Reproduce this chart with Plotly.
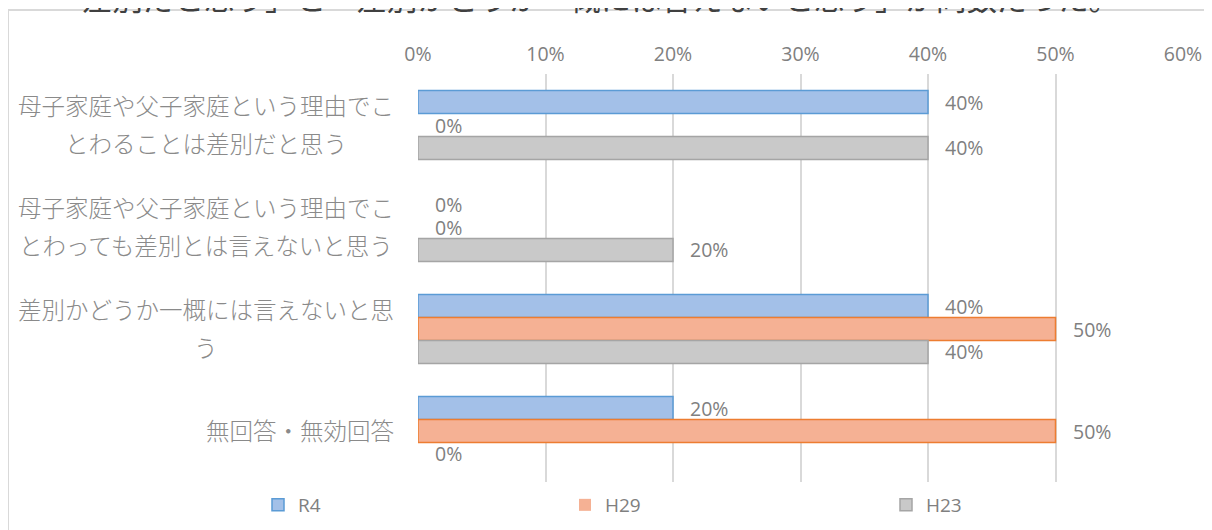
import plotly.graph_objects as go

# ---------------- data ----------------
categories = [
    "母子家庭や父子家庭という理由でことわることは差別だと思う",
    "母子家庭や父子家庭という理由でことわっても差別とは言えないと思う",
    "差別かどうか一概には言えないと思う",
    "無回答・無効回答",
]
series_names = ["R4", "H29", "H23"]
r4_values = [0.40, 0.00, 0.40, 0.20]
h29_values = [0.00, 0.00, 0.50, 0.50]
h23_values = [0.40, 0.20, 0.40, 0.00]
x_tick_values = [0, 0.1, 0.2, 0.3, 0.4, 0.5, 0.6]
title_fragment = "差別だと思う」と「差別かどうか一概には言えないと思う」が同数だった。"

# ---------------- layout constants ----------------
W, H = 1212, 530
OX, OY = 8, 8                      # page body margin offset
PLOT_L, PLOT_R, PLOT_T, PLOT_B = 418, 1183, 74, 482   # target pixel box
PW, PH = PLOT_R - PLOT_L, PLOT_B - PLOT_T
ML = PLOT_L - OX
MT = PLOT_T - OY
MR = W - (PLOT_R - OX)
MB = H - MT - PH


def xp(px):
    return (px - PLOT_L) / PW


def yp(py):
    return (PLOT_B - py) / PH


fills = ["#a3c0e8", "#f5b194", "#c9c9c9"]
edges = ["#5b9bd5", "#ed7d31", "#a5a5a5"]
legend_ids = ["legend", "legend2", "legend3"]
txt_color = "#808080"
cat_color = "#8a8a8a"
num_font = "Open Sans, Noto Sans CJK JP, sans-serif"
jp_font = "Noto Sans CJK JP, sans-serif"

values = [r4_values, h29_values, h23_values]

fig = go.Figure()
for name, vals, fc, ec, lg in zip(series_names, values, fills, edges, legend_ids):
    fig.add_trace(go.Bar(
        y=categories, x=vals, orientation="h", name=name,
        marker=dict(color=fc,
                    line=dict(color=ec, width=[1.5 if v > 0 else 0 for v in vals])),
        legend=lg, hoverinfo="skip",
    ))

annotations = []
# data labels
bar_px = PH / len(categories) * (1 - 0.324) / len(series_names)
for i, vals in enumerate(values):
    shift = ((len(series_names) - 1) / 2 - i) * bar_px
    for cat, v in zip(categories, vals):
        annotations.append(dict(
            x=v, y=cat, xref="x", yref="y", text=f"{v:.0%}",
            showarrow=False, xanchor="left", yanchor="middle",
            xshift=15, yshift=shift,
            font=dict(family=num_font, size=19.5, color=txt_color),
        ))

# category labels (wrapped, centred lines, block right-aligned)
cat_fs = 23.5
wrap = 16
for cat in categories:
    lines = [cat[i:i + wrap] for i in range(0, len(cat), wrap)]
    width = max(len(l) for l in lines) * cat_fs
    xc = 394 - width / 2
    n = len(lines)
    for k, line in enumerate(lines):
        annotations.append(dict(
            x=xp(xc), y=cat, xref="paper", yref="y", text=line,
            showarrow=False, xanchor="center", yanchor="middle",
            yshift=((n - 1) / 2 - k) * 38 + 1,
            font=dict(family=jp_font, size=cat_fs, color=cat_color, weight=300),
        ))

# clipped title line at the very top
annotations.append(dict(
    x=xp(600), y=yp(-3), xref="paper", yref="paper", text=title_fragment,
    showarrow=False, xanchor="center", yanchor="middle",
    font=dict(family=jp_font, size=30.5, color="#404040"),
))

legend_common = dict(
    orientation="h", xanchor="left", yanchor="middle",
    font=dict(family=num_font, size=19, color=txt_color),
    bgcolor="rgba(0,0,0,0)", itemclick=False, itemdoubleclick=False,
)

fig.update_layout(
    width=W, height=H,
    margin=dict(l=ML, r=MR, t=MT, b=MB, autoexpand=False),
    paper_bgcolor="white", plot_bgcolor="white",
    barmode="group", bargap=0.324, bargroupgap=0,
    showlegend=True,
    legend=dict(x=xp(258), y=yp(505), **legend_common),
    legend2=dict(x=xp(565), y=yp(505), **legend_common),
    legend3=dict(x=xp(886), y=yp(505), **legend_common),
    xaxis=dict(
        side="top", range=[0, 0.6], tickvals=x_tick_values, tickformat=".0%",
        showgrid=True, gridcolor="#d9d9d9", gridwidth=2,
        zeroline=False, showline=False, ticks="", ticklabelstandoff=8,
        tickfont=dict(family=num_font, size=19.5, color=txt_color),
        fixedrange=True,
    ),
    yaxis=dict(
        type="category", categoryorder="array", categoryarray=categories,
        autorange="reversed", showticklabels=False, showgrid=False,
        zeroline=False, showline=False, ticks="", fixedrange=True,
    ),
    annotations=annotations,
    shapes=[dict(
        type="rect", xref="paper", yref="paper",
        x0=xp(8), x1=xp(1240), y0=yp(560), y1=yp(10),
        line=dict(color="#d9d9d9", width=2), fillcolor="rgba(0,0,0,0)",
        layer="below",
    )],
)

fig.write_html("out.html")
